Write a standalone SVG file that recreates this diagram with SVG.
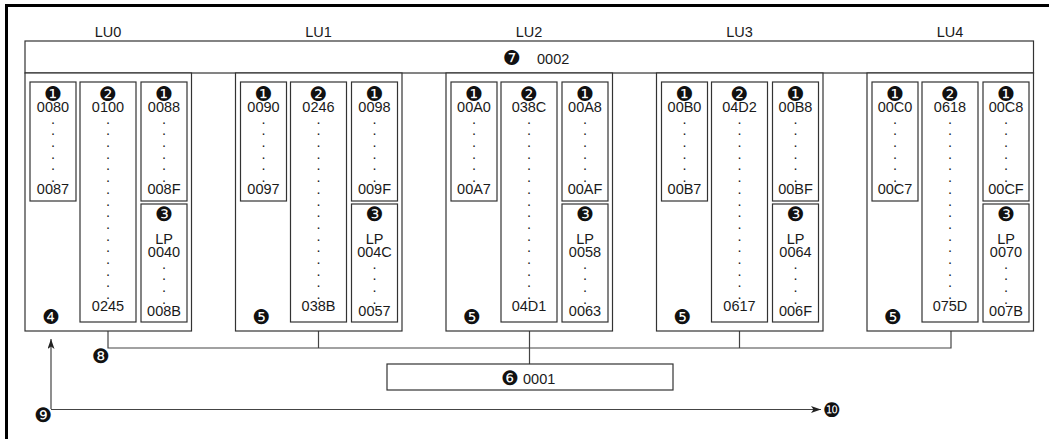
<svg xmlns="http://www.w3.org/2000/svg" xmlns:xlink="http://www.w3.org/1999/xlink" width="1049" height="439" viewBox="0 0 1049 439">
<style>
.bx{fill:#fff;stroke:#333;stroke-width:1.2}
.ln{fill:none;stroke:#444;stroke-width:1.2}
.t{font-family:"Liberation Sans",Arial,sans-serif;font-size:14.5px;fill:#1a1a1a;text-anchor:middle}
.ts{font-family:"Liberation Sans",Arial,sans-serif;font-size:14.5px;fill:#1a1a1a}
.c{font-family:"DejaVu Sans",sans-serif;font-size:20px;fill:#111;text-anchor:middle;dominant-baseline:central}
</style>
<defs>
<marker id="ah" markerUnits="userSpaceOnUse" markerWidth="11" markerHeight="8" refX="10" refY="3.5" orient="auto">
<path d="M0,0 L10,3.5 L0,7 L2.5,3.5 z" fill="#222"/>
</marker>
<text id="d4" class="t"><tspan x="0" y="0">.</tspan><tspan x="0" y="11.7">.</tspan><tspan x="0" y="23.4">.</tspan><tspan x="0" y="35.1">.</tspan></text>
<text id="d6" class="t"><tspan x="0" y="0">.</tspan><tspan x="0" y="11.7">.</tspan><tspan x="0" y="23.4">.</tspan><tspan x="0" y="35.1">.</tspan><tspan x="0" y="46.8">.</tspan><tspan x="0" y="58.5">.</tspan></text>
<text id="d16" class="t"><tspan x="0" y="0">.</tspan><tspan x="0" y="11.7">.</tspan><tspan x="0" y="23.4">.</tspan><tspan x="0" y="35.1">.</tspan><tspan x="0" y="46.8">.</tspan><tspan x="0" y="58.5">.</tspan><tspan x="0" y="70.2">.</tspan><tspan x="0" y="81.9">.</tspan><tspan x="0" y="93.6">.</tspan><tspan x="0" y="105.3">.</tspan><tspan x="0" y="117">.</tspan><tspan x="0" y="128.7">.</tspan><tspan x="0" y="140.4">.</tspan><tspan x="0" y="152.1">.</tspan><tspan x="0" y="163.8">.</tspan><tspan x="0" y="175.5">.</tspan></text>
</defs>
<rect width="1049" height="439" fill="#fff"/>
<path d="M6.5,439 V5.5 H1049" fill="none" stroke="#000" stroke-width="3"/>

<g id="connectors">
<path class="ln" d="M108,331 V348 H951 V331 M318.5,331 V348 M529.5,331 V364 M739.5,331 V348"/>
<path class="ln" d="M51,409 V339" marker-end="url(#ah)"/>
<path class="ln" d="M51,409.5 H821" marker-end="url(#ah)"/>
</g>

<g id="top-box">
<rect class="bx" x="25" y="41" width="1008.5" height="32"/>
<text class="c" x="512" y="58">❼</text>
<text class="ts" x="537" y="64">0002</text>
</g>

<g id="LU0" transform="translate(25,0)">
<text class="t" x="83" y="37">LU0</text>
<rect class="bx" x="0" y="73" width="166.5" height="258"/>
<rect class="bx" x="5" y="82" width="46" height="119"/>
<rect class="bx" x="55" y="82" width="56" height="240"/>
<rect class="bx" x="116" y="82" width="46" height="119"/>
<rect class="bx" x="116" y="204" width="46" height="118"/>
<text class="c" x="28" y="93.5">❶</text><text class="t" x="28" y="112">0080</text><use xlink:href="#d6" x="28" y="123.7"/><text class="t" x="28" y="194">0087</text>
<text class="c" x="83" y="93.5">❷</text><text class="t" x="83" y="112">0100</text><use xlink:href="#d16" x="83" y="123.7"/><text class="t" x="83" y="311">0245</text>
<text class="c" x="139" y="93.5">❶</text><text class="t" x="139" y="112">0088</text><use xlink:href="#d6" x="139" y="123.7"/><text class="t" x="139" y="194">008F</text>
<text class="c" x="139" y="213.5">❸</text><text class="t" x="139" y="243.5">LP</text><text class="t" x="139" y="257">0040</text><use xlink:href="#d4" x="139" y="268.7"/><text class="t" x="139" y="316">008B</text>
<text class="c" x="26" y="317">❹</text>
</g>

<g id="LU1" transform="translate(235.5,0)">
<text class="t" x="83" y="37">LU1</text>
<rect class="bx" x="0" y="73" width="166.5" height="258"/>
<rect class="bx" x="5" y="82" width="46" height="119"/>
<rect class="bx" x="55" y="82" width="56" height="240"/>
<rect class="bx" x="116" y="82" width="46" height="119"/>
<rect class="bx" x="116" y="204" width="46" height="118"/>
<text class="c" x="28" y="93.5">❶</text><text class="t" x="28" y="112">0090</text><use xlink:href="#d6" x="28" y="123.7"/><text class="t" x="28" y="194">0097</text>
<text class="c" x="83" y="93.5">❷</text><text class="t" x="83" y="112">0246</text><use xlink:href="#d16" x="83" y="123.7"/><text class="t" x="83" y="311">038B</text>
<text class="c" x="139" y="93.5">❶</text><text class="t" x="139" y="112">0098</text><use xlink:href="#d6" x="139" y="123.7"/><text class="t" x="139" y="194">009F</text>
<text class="c" x="139" y="213.5">❸</text><text class="t" x="139" y="243.5">LP</text><text class="t" x="139" y="257">004C</text><use xlink:href="#d4" x="139" y="268.7"/><text class="t" x="139" y="316">0057</text>
<text class="c" x="26" y="317">❺</text>
</g>

<g id="LU2" transform="translate(446,0)">
<text class="t" x="83" y="37">LU2</text>
<rect class="bx" x="0" y="73" width="166.5" height="258"/>
<rect class="bx" x="5" y="82" width="46" height="119"/>
<rect class="bx" x="55" y="82" width="56" height="240"/>
<rect class="bx" x="116" y="82" width="46" height="119"/>
<rect class="bx" x="116" y="204" width="46" height="118"/>
<text class="c" x="28" y="93.5">❶</text><text class="t" x="28" y="112">00A0</text><use xlink:href="#d6" x="28" y="123.7"/><text class="t" x="28" y="194">00A7</text>
<text class="c" x="83" y="93.5">❷</text><text class="t" x="83" y="112">038C</text><use xlink:href="#d16" x="83" y="123.7"/><text class="t" x="83" y="311">04D1</text>
<text class="c" x="139" y="93.5">❶</text><text class="t" x="139" y="112">00A8</text><use xlink:href="#d6" x="139" y="123.7"/><text class="t" x="139" y="194">00AF</text>
<text class="c" x="139" y="213.5">❸</text><text class="t" x="139" y="243.5">LP</text><text class="t" x="139" y="257">0058</text><use xlink:href="#d4" x="139" y="268.7"/><text class="t" x="139" y="316">0063</text>
<text class="c" x="26" y="317">❺</text>
</g>

<g id="LU3" transform="translate(656.5,0)">
<text class="t" x="83" y="37">LU3</text>
<rect class="bx" x="0" y="73" width="166.5" height="258"/>
<rect class="bx" x="5" y="82" width="46" height="119"/>
<rect class="bx" x="55" y="82" width="56" height="240"/>
<rect class="bx" x="116" y="82" width="46" height="119"/>
<rect class="bx" x="116" y="204" width="46" height="118"/>
<text class="c" x="28" y="93.5">❶</text><text class="t" x="28" y="112">00B0</text><use xlink:href="#d6" x="28" y="123.7"/><text class="t" x="28" y="194">00B7</text>
<text class="c" x="83" y="93.5">❷</text><text class="t" x="83" y="112">04D2</text><use xlink:href="#d16" x="83" y="123.7"/><text class="t" x="83" y="311">0617</text>
<text class="c" x="139" y="93.5">❶</text><text class="t" x="139" y="112">00B8</text><use xlink:href="#d6" x="139" y="123.7"/><text class="t" x="139" y="194">00BF</text>
<text class="c" x="139" y="213.5">❸</text><text class="t" x="139" y="243.5">LP</text><text class="t" x="139" y="257">0064</text><use xlink:href="#d4" x="139" y="268.7"/><text class="t" x="139" y="316">006F</text>
<text class="c" x="26" y="317">❺</text>
</g>

<g id="LU4" transform="translate(867,0)">
<text class="t" x="83" y="37">LU4</text>
<rect class="bx" x="0" y="73" width="166.5" height="258"/>
<rect class="bx" x="5" y="82" width="46" height="119"/>
<rect class="bx" x="55" y="82" width="56" height="240"/>
<rect class="bx" x="116" y="82" width="46" height="119"/>
<rect class="bx" x="116" y="204" width="46" height="118"/>
<text class="c" x="28" y="93.5">❶</text><text class="t" x="28" y="112">00C0</text><use xlink:href="#d6" x="28" y="123.7"/><text class="t" x="28" y="194">00C7</text>
<text class="c" x="83" y="93.5">❷</text><text class="t" x="83" y="112">0618</text><use xlink:href="#d16" x="83" y="123.7"/><text class="t" x="83" y="311">075D</text>
<text class="c" x="139" y="93.5">❶</text><text class="t" x="139" y="112">00C8</text><use xlink:href="#d6" x="139" y="123.7"/><text class="t" x="139" y="194">00CF</text>
<text class="c" x="139" y="213.5">❸</text><text class="t" x="139" y="243.5">LP</text><text class="t" x="139" y="257">0070</text><use xlink:href="#d4" x="139" y="268.7"/><text class="t" x="139" y="316">007B</text>
<text class="c" x="26" y="317">❺</text>
</g>

<g id="box6">
<rect class="bx" x="387" y="364" width="286" height="26"/>
<text class="c" x="510" y="378">❻</text>
<text class="ts" x="523" y="384">0001</text>
</g>

<g id="labels">
<text class="c" x="101" y="356">❽</text>
<text class="c" x="43" y="415">❾</text>
<text class="c" x="832" y="410">❿</text>
</g>
</svg>
